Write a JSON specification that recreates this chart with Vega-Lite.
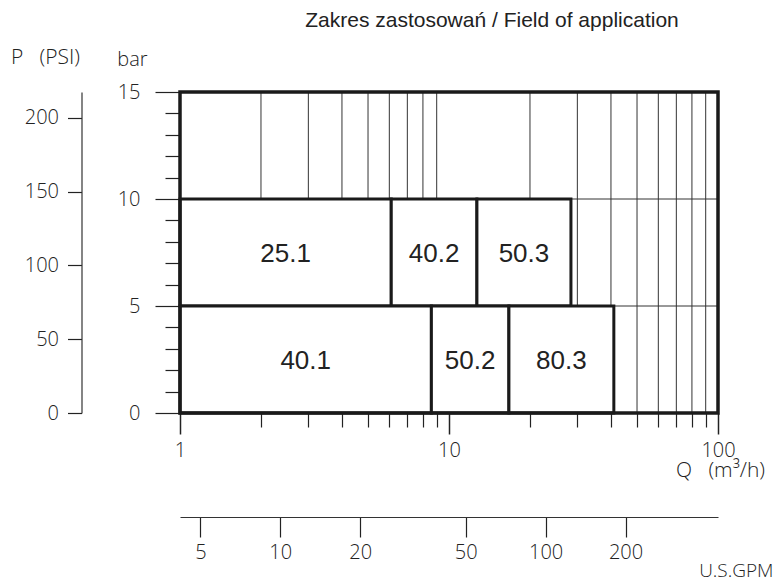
{
  "$schema": "https://vega.github.io/schema/vega-lite/v6.json",
  "width": 538,
  "height": 321,
  "autosize": "none",
  "padding": {"left": 180, "top": 92, "right": 56, "bottom": 168},
  "background": "white",
  "config": {
    "view": {"stroke": null},
    "axis": {
      "labelFont": "Open Sans",
      "labelFontSize": 20,
      "labelFontWeight": 300,
      "labelColor": "#222",
      "titleFont": "Open Sans",
      "titleFontSize": 20,
      "titleFontWeight": 300,
      "titleColor": "#222",
      "tickColor": "#222",
      "domainColor": "#333",
      "grid": false,
      "labelOverlap": false,
      "labelFlush": false
    }
  },
  "title": {
    "text": "Zakres zastosowań / Field of application",
    "font": "Liberation Sans",
    "fontSize": 21,
    "fontWeight": "normal",
    "color": "#222",
    "frame": "group",
    "anchor": "middle",
    "dx": 43,
    "offset": 15
  },
  "datasets": {
    "boxes": [
      {"name": "25.1", "q1": 1, "q2": 6.1, "p1": 5, "p2": 10},
      {"name": "40.2", "q1": 6.1, "q2": 12.7, "p1": 5, "p2": 10},
      {"name": "50.3", "q1": 12.7, "q2": 28.4, "p1": 5, "p2": 10},
      {"name": "40.1", "q1": 1, "q2": 8.6, "p1": 0, "p2": 5},
      {"name": "50.2", "q1": 8.6, "q2": 16.7, "p1": 0, "p2": 5},
      {"name": "80.3", "q1": 16.7, "q2": 41, "p1": 0, "p2": 5}
    ],
    "vgrid": [
      {"q": 2}, {"q": 3}, {"q": 4}, {"q": 5}, {"q": 6}, {"q": 7}, {"q": 8}, {"q": 9},
      {"q": 20}, {"q": 30}, {"q": 40}, {"q": 50}, {"q": 60}, {"q": 70}, {"q": 80}, {"q": 90}
    ],
    "hgrid": [{"p": 5}, {"p": 10}],
    "frame": [{"q1": 1, "q2": 100, "p1": 0, "p2": 15}],
    "psi": [{"psi": 0}, {"psi": 50}, {"psi": 100}, {"psi": 150}, {"psi": 200}],
    "gpm": [{"gpm": 5}, {"gpm": 10}, {"gpm": 20}, {"gpm": 50}, {"gpm": 100}, {"gpm": 200}]
  },
  "layer": [
    {
      "data": {"name": "vgrid"},
      "mark": {"type": "rule", "color": "#333", "strokeWidth": 1},
      "encoding": {
        "x": {
          "field": "q", "type": "quantitative",
          "scale": {"type": "log", "domain": [1, 100], "nice": false},
          "axis": {
            "orient": "bottom", "values": [2, 3, 4, 5, 6, 7, 8, 9, 20, 30, 40, 50, 60, 70, 80, 90],
            "labels": false, "domain": false, "tickSize": 14, "tickWidth": 1.2, "title": null
          }
        }
      }
    },
    {
      "data": {"name": "hgrid"},
      "mark": {"type": "rule", "color": "#333", "strokeWidth": 1},
      "encoding": {
        "y": {
          "field": "p", "type": "quantitative",
          "scale": {"domain": [0, 15], "nice": false, "zero": false},
          "axis": {
            "orient": "left", "values": [1, 2, 3, 4, 6, 7, 8, 9, 11, 12, 13, 14],
            "labels": false, "domain": false, "tickSize": 15, "tickWidth": 1.2, "title": null
          }
        }
      }
    },
    {
      "layer": [
        {
          "data": {"name": "boxes"},
          "mark": {"type": "rect", "fill": "white", "stroke": "#1a1a1a", "strokeWidth": 3},
          "encoding": {
            "x": {
              "field": "q1", "type": "quantitative",
              "scale": {"type": "log", "domain": [1, 100], "nice": false},
              "axis": {
                "orient": "bottom", "values": [1, 10, 100], "format": "d",
                "domain": false, "tickSize": 21, "tickWidth": 1.5, "labelPadding": 6,
                "title": "Q\u00a0\u00a0\u00a0(m³/h)", "titleFontSize": 21, "titleX": 540, "titleY": 57,
                "titleAlign": "center", "titleBaseline": "middle", "titleAngle": 0
              }
            },
            "x2": {"field": "q2"},
            "y": {
              "field": "p1", "type": "quantitative",
              "scale": {"domain": [0, 15], "nice": false, "zero": false},
              "axis": {
                "orient": "left", "values": [0, 5, 10, 15],
                "domain": false, "tickSize": 25, "tickWidth": 1.2, "labelPadding": 15,
                "title": "bar", "titleAngle": 0, "titleX": -48, "titleY": -33,
                "titleAlign": "center", "titleBaseline": "middle"
              }
            },
            "y2": {"field": "p2"}
          }
        },
        {
          "data": {"name": "boxes"},
          "transform": [
            {"calculate": "sqrt(datum.q1 * datum.q2)", "as": "qc"},
            {"calculate": "(datum.p1 + datum.p2) / 2", "as": "pc"}
          ],
          "mark": {"type": "text", "font": "Liberation Sans", "fontSize": 26, "color": "#222", "align": "center", "baseline": "middle", "dy": 1},
          "encoding": {
            "x": {"field": "qc", "type": "quantitative"},
            "y": {"field": "pc", "type": "quantitative"},
            "text": {"field": "name", "type": "nominal"}
          }
        },
        {
          "data": {"name": "frame"},
          "mark": {"type": "rect", "fill": null, "fillOpacity": 0, "stroke": "#1a1a1a", "strokeWidth": 3.5},
          "encoding": {
            "x": {"field": "q1", "type": "quantitative"},
            "x2": {"field": "q2"},
            "y": {"field": "p1", "type": "quantitative"},
            "y2": {"field": "p2"}
          }
        }
      ]
    },
    {
      "data": {"name": "psi"},
      "mark": {"type": "point", "opacity": 0},
      "encoding": {
        "y": {
          "field": "psi", "type": "quantitative",
          "scale": {"domain": [0, 217.56], "nice": false, "zero": false},
          "axis": {
            "orient": "left", "offset": 98.5, "values": [0, 50, 100, 150, 200],
            "domain": true, "domainWidth": 1.2, "tickSize": 14, "tickWidth": 1.2, "labelPadding": 9,
            "title": "P\u00a0\u00a0\u00a0(PSI)", "titleFontSize": 21, "titleAngle": 0, "titleX": -36.5, "titleY": -35,
            "titleAlign": "center", "titleBaseline": "middle"
          }
        }
      }
    },
    {
      "data": {"name": "gpm"},
      "mark": {"type": "point", "opacity": 0},
      "encoding": {
        "x": {
          "field": "gpm", "type": "quantitative",
          "scale": {"type": "log", "domain": [4.19, 446], "nice": false},
          "axis": {
            "orient": "bottom", "offset": 104, "values": [5, 10, 20, 50, 100, 200], "format": "d",
            "domain": true, "domainWidth": 1.2, "tickSize": 20, "tickWidth": 1.2, "labelPadding": 5,
            "title": "U.S.GPM", "titleFontSize": 19, "titleX": 593, "titleY": 53,
            "titleAlign": "right", "titleBaseline": "middle", "titleAngle": 0
          }
        }
      }
    }
  ],
  "resolve": {
    "scale": {"x": "independent", "y": "independent"},
    "axis": {"x": "independent", "y": "independent"}
  }
}
